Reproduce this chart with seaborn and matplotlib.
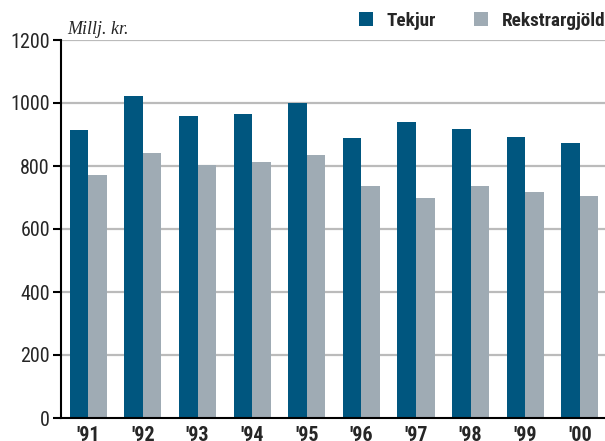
import matplotlib
matplotlib.use("Agg")
import matplotlib.pyplot as plt
import seaborn as sns
import pandas as pd
from matplotlib.patches import Patch

years = ["'91", "'92", "'93", "'94", "'95", "'96", "'97", "'98", "'99", "'00"]
tekjur = [914, 1022, 958, 965, 1000, 888, 939, 917, 891, 872]
rekstrargjold = [770, 841, 802, 812, 834, 738, 697, 735, 719, 706]
series_names = ["Tekjur", "Rekstrargjöld"]
colors = ["#00567f", "#9fabb4"]
y_ticks = [0, 200, 400, 600, 800, 1000, 1200]

df = pd.DataFrame({
    "year": years * 2,
    "value": tekjur + rekstrargjold,
    "series": [series_names[0]] * len(years) + [series_names[1]] * len(years),
})

sns.set_style("white")
FAM = ["Roboto Condensed", "DejaVu Sans"]
plt.rcParams["font.family"] = FAM

fig = plt.figure(figsize=(6.05, 4.41), dpi=100)
ax = fig.add_axes([61 / 605, 23 / 441, 1 - 61 / 605, (418 - 40) / 441])

sns.barplot(data=df, x="year", y="value", hue="series", order=years,
            hue_order=series_names, palette=colors, width=0.68, gap=0,
            saturation=1, ax=ax, legend=False, linewidth=0, zorder=3)

ax.set_ylim(0, 1200)
ax.set_xlim(-0.5, 9.46)
ax.set_yticks(y_ticks)
ax.set_yticklabels([str(t) for t in y_ticks], fontsize=14.5)
for t in y_ticks[1:]:
    ax.axhline(t, color="#bbbbbb", lw=1.6, zorder=1)

# x ticks: marks at boundaries, labels at centres
ax.set_xticks([i - 0.5 for i in range(len(years))])
ax.set_xticklabels([])
ax.set_xticks(range(len(years)), minor=True)
ax.set_xticklabels(years, minor=True, fontsize=14.5, fontweight="bold")
ax.tick_params(axis="x", which="major", direction="out", length=11, width=1.5, color="black")
ax.tick_params(axis="x", which="minor", length=0, pad=6)
ax.tick_params(axis="y", direction="out", length=6, width=1.5, color="black", pad=2, left=True)

ax.set_xlabel("")
ax.set_ylabel("")
for s in ["top", "right"]:
    ax.spines[s].set_visible(False)
for s in ["left", "bottom"]:
    ax.spines[s].set_color("black")
    ax.spines[s].set_linewidth(1.5)
    ax.spines[s].set_zorder(4)

fig.text(67 / 605, 1 - 29 / 441, "Millj. kr.", family=["Liberation Serif", "DejaVu Serif"],
         style="italic", fontsize=13, va="center", ha="left")

handles = [Patch(facecolor=c, edgecolor="none") for c in colors]
fig.legend(handles, series_names, ncol=2, loc="center right",
           bbox_to_anchor=(1.0, 1 - 21 / 441), frameon=False,
           prop={"family": FAM, "weight": "bold", "size": 13.8},
           handlelength=0.73, handleheight=0.73, handletextpad=0.72, columnspacing=1.95,
           borderpad=0, borderaxespad=0)

fig.savefig("out.png", dpi=100)
